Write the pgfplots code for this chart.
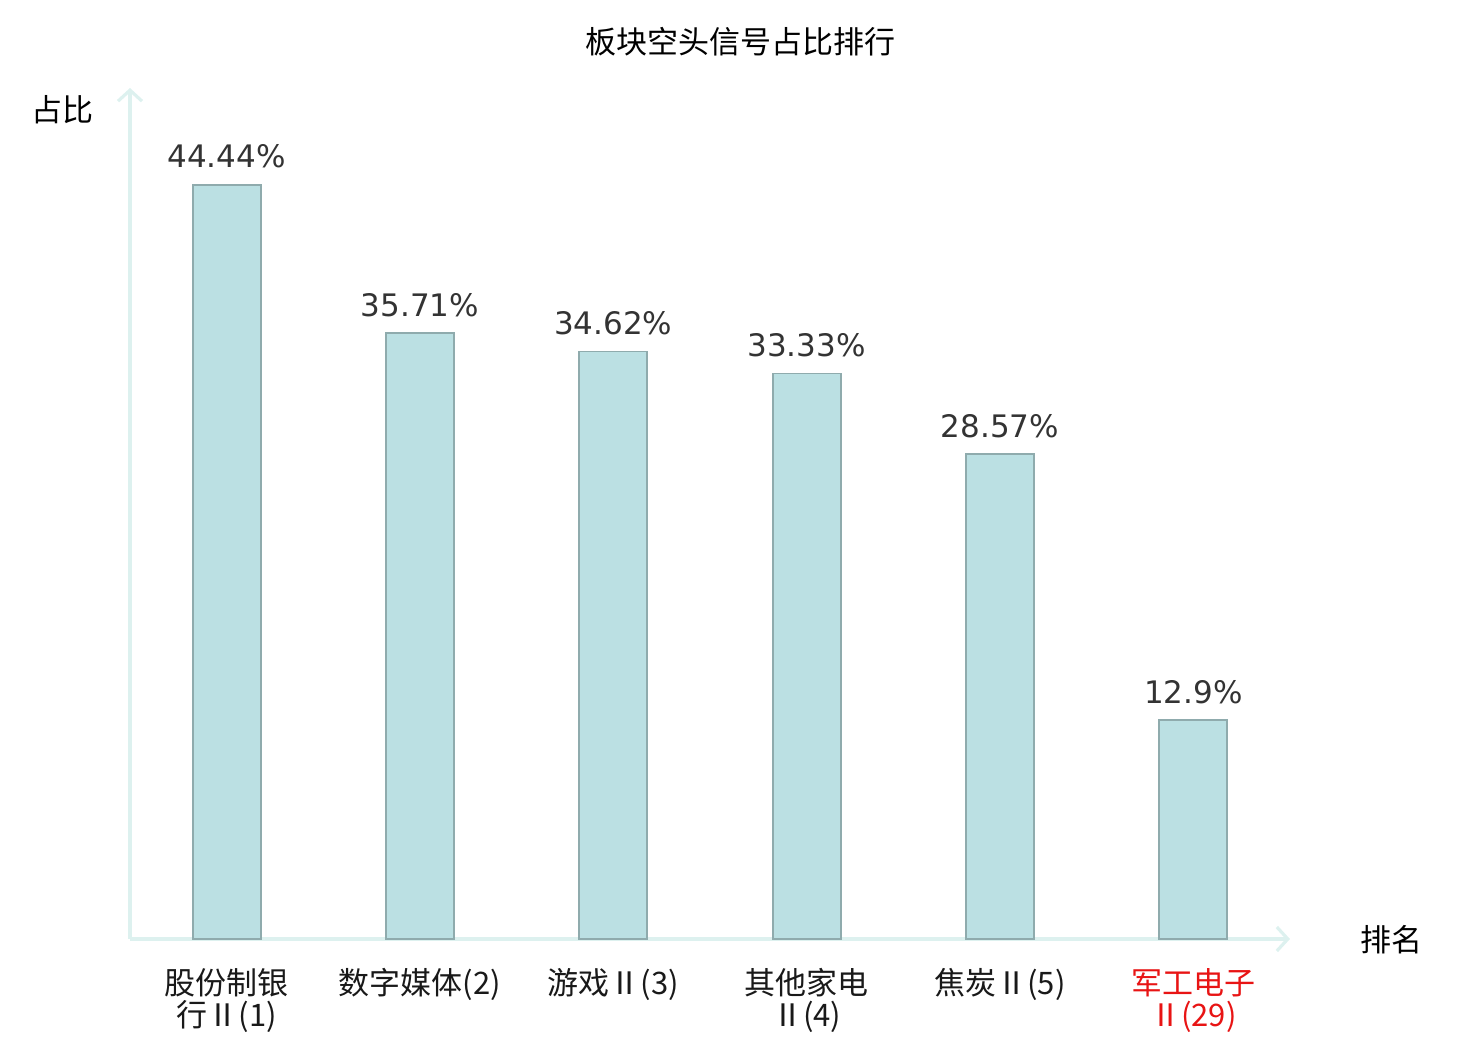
\documentclass[border=0pt]{standalone}
\usepackage{pgfplots}
\pgfplotsset{compat=1.18}
\usetikzlibrary{arrows.meta}
\usepackage{fontspec}
\setmainfont{Noto Sans CJK SC}
\newfontfamily\dejavu{DejaVu Sans}
\definecolor{barfill}{HTML}{BBE0E3}
\definecolor{bardraw}{HTML}{8FABAD}
\definecolor{axiscol}{HTML}{DDF1EF}
\definecolor{valcol}{HTML}{333333}
\definecolor{redlab}{RGB}{232,20,20}
\begin{document}
\begin{tikzpicture}
\useasboundingbox (-65pt,-50.5pt) rectangle (675pt,469.5pt);
\begin{axis}[
  scale only axis,
  width=580pt, height=425.5pt,
  xmin=-0.5, xmax=5.5,
  ymin=0, ymax=50.15,
  clip=false,
  axis x line=bottom, axis y line=left,
  axis line style={draw=axiscol, line width=1.6pt, -{Straight Barb[length=5.5pt,width=12pt,line width=1.6pt]}},
  ytick=\empty,
  xtick=data,
  major tick length=0pt,
  xticklabels={股份制银\\行Ⅱ(1), 数字媒体(2), 游戏Ⅱ(3), 其他家电\\Ⅱ(4), 焦炭Ⅱ(5), {\textcolor{redlab}{军工电子}\\\textcolor{redlab}{Ⅱ(29)}}},
  xticklabel style={align=center, font=\fontsize{15.5}{16}\selectfont, text=black!90, anchor=north, yshift=-11pt},
  ybar, bar width=34pt,
  nodes near coords,
  point meta=explicit symbolic,
  every node near coord/.append style={font=\dejavu\fontsize{15.5}{16}\selectfont, text=valcol, anchor=base, inner sep=0pt, yshift=8.5pt},
]
\addplot[fill=barfill, draw=bardraw, line width=0.9pt] table[meta=lab] {
x y lab
0 44.44 44.44\%
1 35.71 35.71\%
2 34.62 34.62\%
3 33.33 33.33\%
4 28.57 28.57\%
5 12.9 12.9\%
};
\end{axis}
\node[font=\fontsize{15.5}{16}\selectfont, text=black] at (305pt,448.5pt) {板块空头信号占比排行};
\node[font=\fontsize{15.5}{16}\selectfont, text=black] at (-33.5pt,414.5pt) {占比};
\node[font=\fontsize{15.5}{16}\selectfont, text=black] at (630.5pt,-0.5pt) {排名};
\end{tikzpicture}
\end{document}
